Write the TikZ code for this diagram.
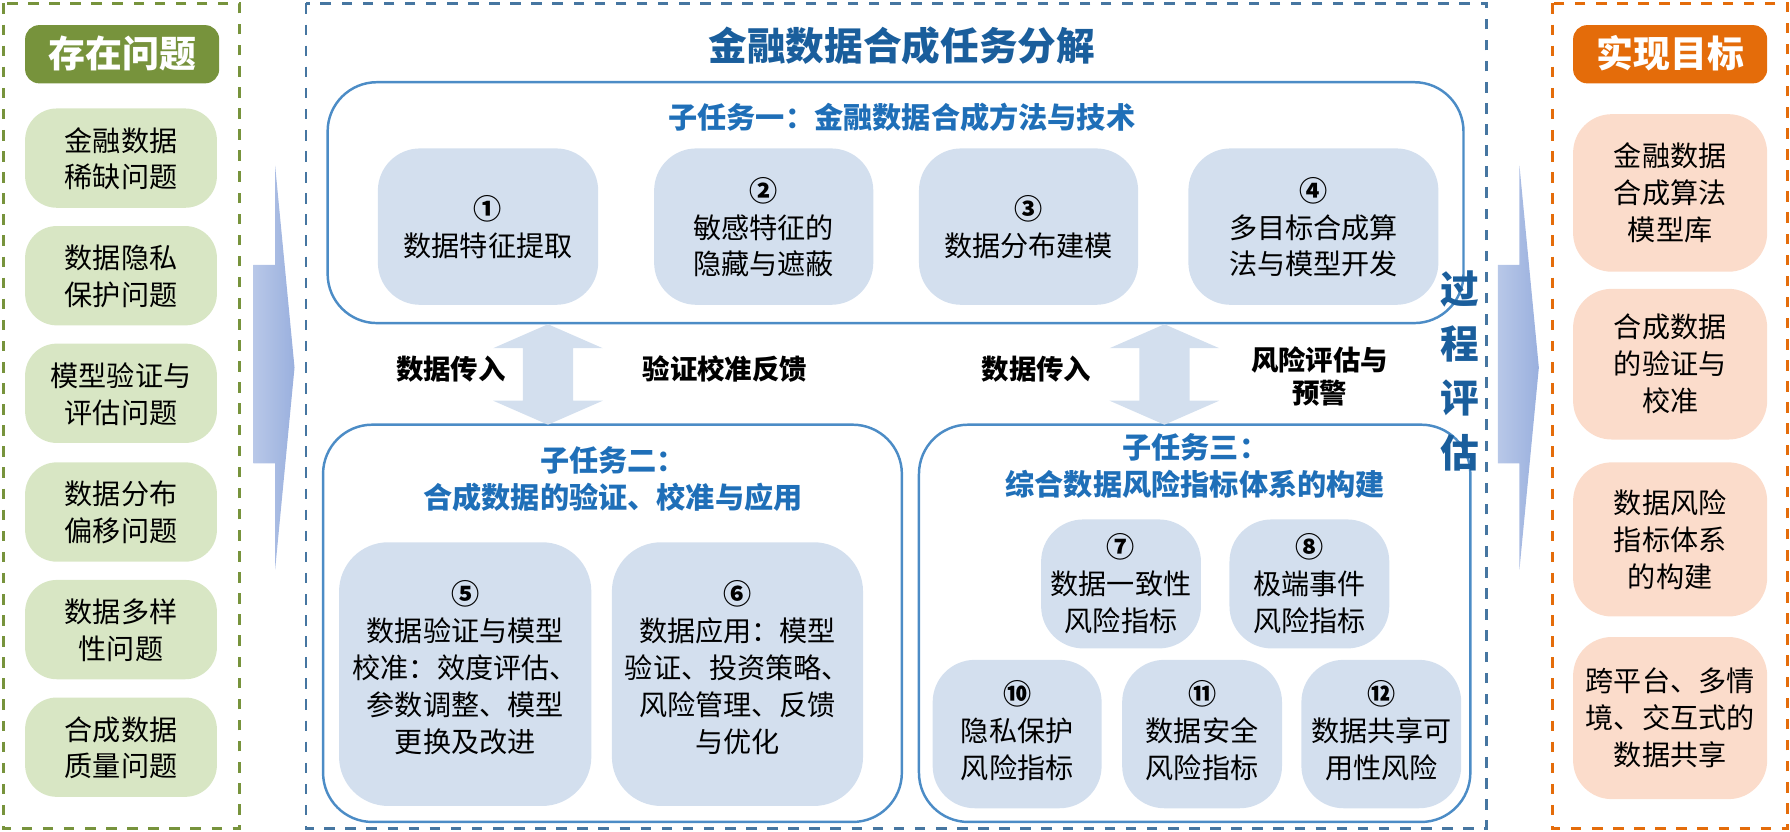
\documentclass[tikz,border=0pt]{standalone}
\usepackage{fontspec}
\setmainfont{Noto Sans CJK SC}
\usepackage{tikz}
\definecolor{grn}{HTML}{77933C}
\definecolor{grnlt}{HTML}{D8E6C4}
\definecolor{org}{HTML}{E46C0A}
\definecolor{orglt}{HTML}{FBDCCB}
\definecolor{blu}{HTML}{1F6FB8}
\definecolor{blult}{HTML}{D3DFEE}
\definecolor{arr}{HTML}{9AB0DE}
\newcommand{\nr}[1]{{\bfseries #1}}
\tikzset{
  item/.style={align=center, font=\fontsize{8}{10.5}\selectfont, inner sep=0pt},
  task/.style={draw=blu!80, line width=0.7pt, rounded corners=14pt},
  ttl/.style={text=blu, font=\fontsize{8.3}{10.5}\selectfont\bfseries, align=center},
  lbl/.style={font=\fontsize{7.8}{9.5}\selectfont\bfseries, align=center}
}
\begin{document}
\begin{tikzpicture}[x=0.011416cm, y=-0.011416cm]
	\useasboundingbox (0,0) rectangle (1568,728);
	% frames
	\draw[grn, dashed, thick] (3,3) rectangle (210,726);
	\draw[blu!60!gray, dashed, thick] (268,3) rectangle (1302,726);
	\draw[org, dashed, thick] (1360,3) rectangle (1566,726);
	% side arrows
	\shade[left color=arr!70, right color=arr] (222,232) -- (241,232) -- (241,145) -- (258,322) -- (241,499) -- (241,406) -- (222,406) -- cycle;
	\shade[left color=arr!70, right color=arr] (1312,232) -- (1331,232) -- (1331,145) -- (1348,322) -- (1331,499) -- (1331,406) -- (1312,406) -- cycle;
	% left column
	\fill[grn, rounded corners=4pt] (22,22) rectangle (192,73);
	\node[text=white, font=\fontsize{10.5}{12}\selectfont\bfseries] (hl) at (107,47) {存在问题};
	\foreach \y/\t [count=\i] in {95/金融数据\\稀缺问题, 198/数据隐私\\保护问题, 301/模型验证与\\评估问题, 405/数据分布\\偏移问题, 508/数据多样\\性问题, 611/合成数据\\质量问题}
		{\fill[grnlt, rounded corners=9pt] (22,\y) rectangle (190,\y+87);
		 \node[item] (q\i) at (106,\y+44) {\t};}
	% right column
	\fill[org, rounded corners=4pt] (1378,22) rectangle (1548,73);
	\node[text=white, font=\fontsize{10.5}{12}\selectfont\bfseries] (hr) at (1463,47) {实现目标};
	\foreach \a/\b/\t [count=\i] in {100/238/金融数据\\合成算法\\模型库, 253/385/合成数据\\的验证与\\校准, 405/540/数据风险\\指标体系\\的构建, 558/700/跨平台、多情\\境、交互式的\\数据共享}
		{\fill[orglt, rounded corners=11pt] (1378,\a) rectangle (1548,\b);
		 \node[item] (g\i) at (1463,{(\a+\b)/2}) {\t};}
	% middle
	\node[text=blu!85!black, font=\fontsize{11}{13}\selectfont\bfseries] (main) at (790,40) {金融数据合成任务分解};
	\draw[task] (287,72) rectangle (1282,283);
	\node[ttl] (t1) at (790,103) {子任务一：金融数据合成方法与技术};
	\foreach \a/\b/\t [count=\i] in {331/524/\nr{①}\\数据特征提取, 573/765/\nr{②}\\敏感特征的\\隐藏与遮蔽, 805/997/\nr{③}\\数据分布建模, 1041/1260/\nr{④}\\多目标合成算\\法与模型开发}
		{\fill[blult, rounded corners=12pt] (\a,130) rectangle (\b,267);
		 \node[item] (s\i) at ({(\a+\b)/2},199) {\t};}
	\draw[task] (283,372) rectangle (790,720);
	\node[ttl] (t2) at (537,420) {子任务二：\\合成数据的验证、校准与应用};
	\foreach \a/\b/\t [count=\i from 5] in {297/518/\nr{⑤}\\数据验证与模型\\校准：效度评估、\\参数调整、模型\\更换及改进, 536/756/\nr{⑥}\\数据应用：模型\\验证、投资策略、\\风险管理、反馈\\与优化}
		{\fill[blult, rounded corners=14pt] (\a,475) rectangle (\b,706);
		 \node[item] (s\i) at ({(\a+\b)/2},585) {\t};}
	\draw[task] (805,372) rectangle (1288,720);
	\node[ttl] (t3) at (1047,408) {子任务三：\\综合数据风险指标体系的构建};
	\foreach \a/\b/\t [count=\i from 7] in {912/1052/\nr{⑦}\\数据一致性\\风险指标, 1077/1217/\nr{⑧}\\极端事件\\风险指标}
		{\fill[blult, rounded corners=12pt] (\a,455) rectangle (\b,568);
		 \node[item] (s\i) at ({(\a+\b)/2},511) {\t};}
	\foreach \a/\b/\t [count=\i from 10] in {817/965/\nr{⑩}\\隐私保护\\风险指标, 983/1123/\nr{⑪}\\数据安全\\风险指标, 1140/1280/\nr{⑫}\\数据共享可\\用性风险}
		{\fill[blult, rounded corners=12pt] (\a,578) rectangle (\b,708);
		 \node[item] (s\i) at ({(\a+\b)/2},640) {\t};}
	% double arrows
	\foreach \c in {480,1020}
		\fill[blult] (\c,284) -- (\c+48,305) -- (\c+22,305) -- (\c+22,351) -- (\c+48,351) -- (\c,372) -- (\c-48,351) -- (\c-22,351) -- (\c-22,305) -- (\c-48,305) -- cycle;
	\node[lbl] (l1) at (395,323) {数据传入};
	\node[lbl] (l2) at (635,323) {验证校准反馈};
	\node[lbl] (l3) at (908,323) {数据传入};
	\node[lbl] (l4) at (1156,330) {风险评估与\\预警};
	\node[text=blu!85!black, font=\fontsize{11}{15.5}\selectfont\bfseries, align=center] (pe) at (1279,325) {过\\程\\评\\估};
\end{tikzpicture}
\end{document}
